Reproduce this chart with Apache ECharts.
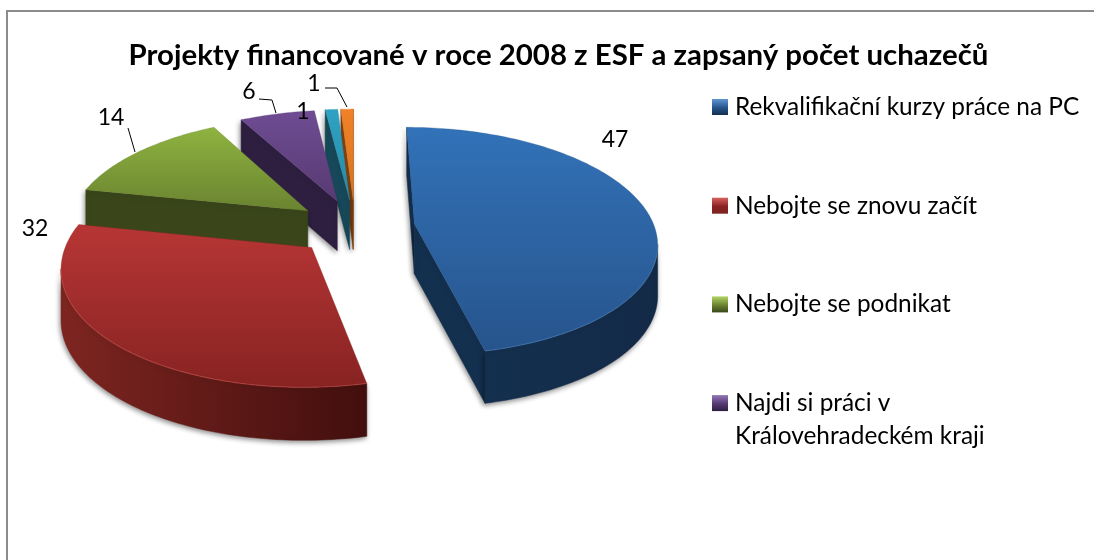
<!DOCTYPE html>
<html><head><meta charset="utf-8">
<style>html,body{margin:0;padding:0;background:#fff}#c{width:1094px;height:560px}</style>
<script src="https://cdn.jsdelivr.net/npm/echarts@6/dist/echarts.min.js"></script>
</head><body><div id="c"></div>
<script>
const categories = ['Rekvalifikační kurzy práce na PC','Nebojte se znovu začít','Nebojte se podnikat','Najdi si práci v\nKrálovehradeckém kraji','Další projekt A','Další projekt B'];
const values = [47,32,14,6,1,1];
const legendCount = 4;
const titleText = 'Projekty financované v roce 2008 z ESF a zapsaný počet uchazečů';

// Styles per slice: top-face gradient, side colours, rim highlight
const topColors = [['#3272b8','#27548c'],['#b73635','#872322'],['#8fb340','#6a8330'],['#6f4c93','#573a72'],['#2ea2c4','#2a8aa6'],['#f08228','#d8731f']];
const sideColors = [['#14304f','#132a48'],['#7e2521','#420f0d'],['#3a461a','#38431a'],['#2e1f40','#2c1d3c'],['#17495a','#143f4e'],['#804414','#6e3a10']];
const legendLight = ['#5f97d6','#d9605e','#b4d468','#9276b8'];
const rimLight = ['#4a7fbc','#c8504e','#a4c060','#8a6cae','#6cc0d8','#f8a868'];
const drawOrder = [5,4,3,2,0,1];
const labelOffsets = [[615,140],[35,229],[111,118],[249,92],[303,112],[314,84]];
const leaders = [null,null,[[128,128],[135,152]],[[259,99],[272,100],[276,113]],null,[[325,88],[337,88],[347,107]]];

// Projection of the exploded 3D pie
const CX=355, CY=227, RX=240, RY=112, PERSP=0.15, EXPLODE=0.25, DEPTH=50, DEPTH_POW=0.3;
const total = values.reduce((a,b)=>a+b,0);
function project(U,V){
  const s = 1/(1-PERSP*V);
  return {x:CX+RX*U*s, y:CY+RY*V*s, d:DEPTH*Math.pow(s,DEPTH_POW)};
}
function sliceAngles(i){
  let a=0; for(let k=0;k<i;k++) a+=values[k];
  return a/total*2*Math.PI;
}
function renderSlice(i, val){
  const t0 = sliceAngles(i);
  const t1 = t0 + val/total*2*Math.PI, tm=(t0+t1)/2;
  const ox=EXPLODE*Math.sin(tm), oy=-EXPLODE*Math.cos(tm);
  const at=(t)=>project(ox+Math.sin(t),oy-Math.cos(t));
  const apex=project(ox,oy);
  const n=Math.max(6,Math.ceil((t1-t0)/0.02));
  const rim=[]; for(let k=0;k<=n;k++) rim.push(at(t0+(t1-t0)*k/n));
  const top=p=>[p.x,p.y], bot=p=>[p.x,p.y+p.d];
  const children=[];
  const shadow={shadowBlur:5,shadowColor:'rgba(0,0,0,0.45)',shadowOffsetX:-1,shadowOffsetY:2};
  const side=(pts,fill,sh)=>({type:'polygon',shape:{points:pts},style:Object.assign({fill,stroke:fill,lineWidth:0.5},sh?shadow:{}),silent:true});
  const area=q=>{let s=0;for(let k=0;k<q.length;k++){const a=q[k],b=q[(k+1)%q.length];s+=a[0]*b[1]-b[0]*a[1];}return s;};
  // radial cut faces, kept only when they face the viewer
  const sc=sideColors[i];
  const q1=[top(apex),top(rim[0]),bot(rim[0]),bot(apex)];
  const q2=[top(rim[n]),top(apex),bot(apex),bot(rim[n])];
  if(area(q1)<0) children.push(side(q1,sc[0],true));
  if(area(q2)<0) children.push(side(q2,sc[0],true));
  // outer wall: only the part where the rim runs right-to-left on screen
  let a0=-1,a1=-1;
  for(let k=0;k<n;k++){ if(rim[k+1].x<rim[k].x){ if(a0<0)a0=k; a1=k+1; } }
  if(a0>=0){
    const vis=rim.slice(a0,a1+1);
    const pts=vis.map(top).concat(vis.slice().reverse().map(bot));
    children.push(side(pts,new echarts.graphic.LinearGradient(0,0,1,0,[{offset:0,color:sc[0]},{offset:1,color:sc[1]}]),true));
  }
  // top face
  const tc=topColors[i];
  children.push({type:'polygon',shape:{points:[top(apex)].concat(rim.map(top))},
    style:{fill:new echarts.graphic.LinearGradient(0,0,0,1,[{offset:0,color:tc[0]},{offset:1,color:tc[1]}]),stroke:tc[1],lineWidth:0.3},silent:true});
  if(a0>=0){
    const vis=rim.slice(a0,a1+1);
    children.push({type:'polyline',shape:{points:vis.map(top)},style:{fill:null,stroke:rimLight[i],lineWidth:1.2,opacity:0.5},silent:true});
  }
  return {type:'group',children};
}
const series = categories.map((name,i)=>({
  type:'custom', name, coordinateSystem:'none', z:2+drawOrder.indexOf(i),
  silent:true, animation:false, clip:false,
  data:[[values[i]]], encode:{value:0},
  renderItem:(params,api)=>renderSlice(i,api.value(0))
}));
// value labels with leader lines
series.push({
  type:'custom', name:'popisky', coordinateSystem:'none', z:20, silent:true, animation:false,
  data:values.map((v,i)=>[v,i]),
  renderItem:(params,api)=>{
    const i=api.value(1), ch=[{type:'text',style:{text:String(api.value(0)),x:labelOffsets[i][0],y:labelOffsets[i][1],align:'center',verticalAlign:'middle',font:'23px Lato',fill:'#000'},silent:true}];
    if(leaders[i]) ch.push({type:'polyline',shape:{points:leaders[i]},style:{fill:null,stroke:'#000',lineWidth:1},silent:true});
    return {type:'group',children:ch};
  }
});
const legendData = categories.slice(0,legendCount).map((name,i)=>({
  name, icon:'rect',
  itemStyle:{color:new echarts.graphic.LinearGradient(0,0,0,1,[{offset:0,color:legendLight[i]},{offset:0.55,color:topColors[i][1]},{offset:1,color:sideColors[i][0]}])}
}));
const chart = echarts.init(document.getElementById('c'),null,{renderer:'canvas'});
chart.setOption({
  animation:false,
  backgroundColor:'#fff',
  title:{text:titleText,left:553.5,top:36,textAlign:'center',textStyle:{fontFamily:'Lato',fontWeight:'bold',fontSize:29.4,color:'#000'}},
  legend:{orient:'vertical',left:712,top:89.5,padding:0,itemWidth:16,itemHeight:16,itemGap:63.7,data:legendData,selectedMode:false,
    textStyle:{fontFamily:'Lato',fontSize:24.4,lineHeight:35,color:'#000',padding:[0,0,0,2]},
    formatter:n=>n.split('\n')[0]},
  graphic:[
    {type:'polyline',shape:{points:[[7,560],[7,11],[1094,11]]},style:{fill:null,stroke:'#8c8c8c',lineWidth:2},silent:true},
    {type:'text',left:735,top:424,style:{text:categories[3].split('\n')[1],font:'24.4px Lato',fill:'#000'},silent:true}
  ],
  series
});
</script></body></html>
